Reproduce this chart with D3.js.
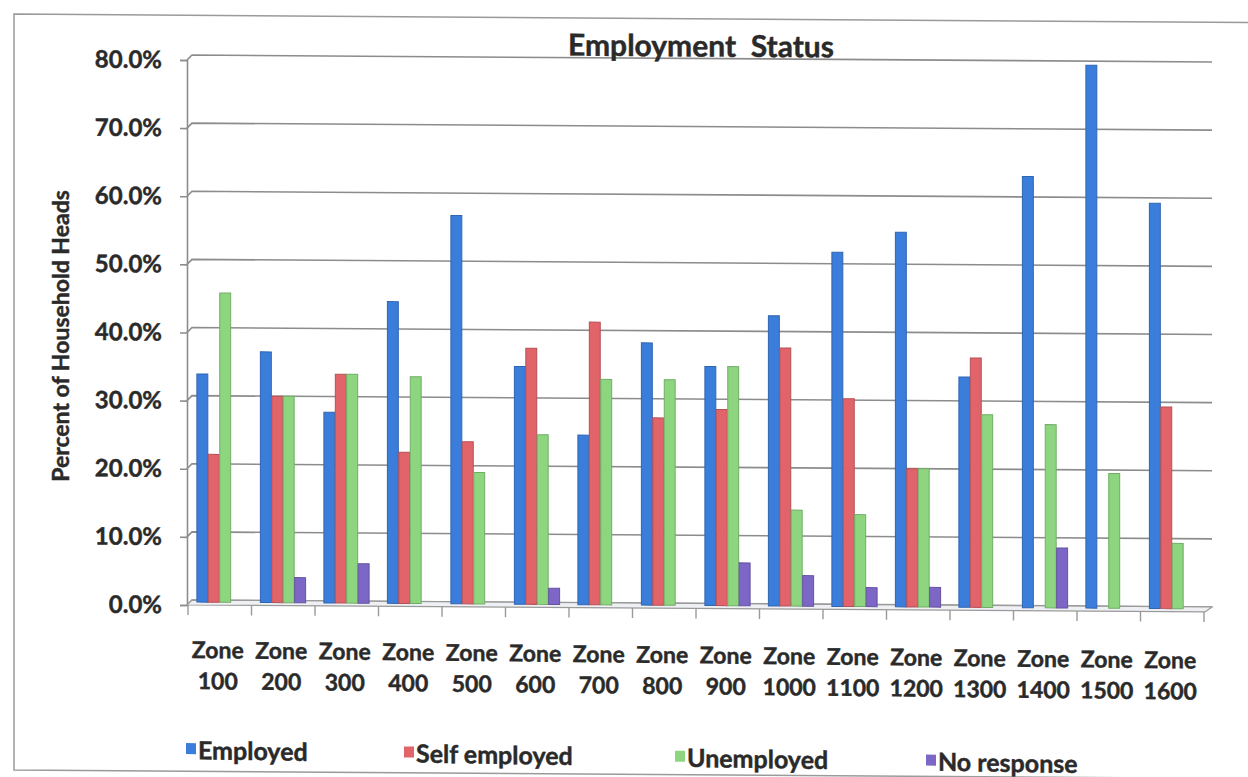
<!DOCTYPE html>
<html>
<head>
<meta charset="utf-8">
<script src="https://cdn.jsdelivr.net/npm/d3@7"></script>
<style>
  html, body { margin: 0; padding: 0; background: #fff; }
  svg { display: block; }
  text { font-family: Lato, "Open Sans", "Liberation Sans", sans-serif; font-weight: 700; fill: #2a2a2a; stroke: #2a2a2a; stroke-width: 0.45px; }
</style>
</head>
<body>
<svg id="chart" width="1248" height="777"></svg>
<script>
// Employment status of household heads by zone (percent)
const zones = ["100", "200", "300", "400", "500", "600", "700", "800",
               "900", "1000", "1100", "1200", "1300", "1400", "1500", "1600"];
const seriesNames = ["Employed", "Self employed", "Unemployed", "No response"];
const employed     = [33.2, 36.5, 27.7, 44.0, 56.7, 34.6, 24.6, 38.2, 34.8, 42.3, 51.7, 54.7, 33.5, 63.0, 79.4, 59.2];
const selfEmployed = [21.4, 30.0, 33.3, 21.9, 23.5, 37.3, 41.2, 27.2, 28.5, 37.6, 30.2, 20.0, 36.3, 0.0, 0.0, 29.3];
const unemployed   = [45.1, 30.0, 33.3, 33.0, 19.0, 24.6, 32.8, 32.8, 34.8, 13.8, 13.2, 20.0, 28.0, 26.6, 19.5, 9.3];
const noResponse   = [0.0, 3.4, 5.5, 0.0, 0.0, 2.1, 0.0, 0.0, 6.0, 4.2, 2.5, 2.6, 0.0, 8.5, 0.0, 0.0];
const yTicks = [0, 10, 20, 30, 40, 50, 60, 70, 80];
const colors = ["#3b7ddb", "#e0646a", "#8dd67f", "#7d67c6"];

const seriesValues = [employed, selfEmployed, unemployed, noResponse];
const rows = zones.map((z, i) => ({
  zone: z,
  values: seriesNames.map((s, k) => ({ key: s, value: seriesValues[k][i] }))
}));

const svg = d3.select("#chart");
svg.append("rect").attr("width", 1248).attr("height", 777).attr("fill", "#fff");

// the whole drawing sits slightly tilted, left edge fixed
const tilt = (deg, ox) => `translate(${ox},0) skewY(${deg}) translate(${-ox},0)`;

// outer frame
svg.append("g").attr("transform", tilt(0.4, 14))
  .append("path")
  .attr("d", "M1250,14 H14 V770 H1250")
  .attr("fill", "none").attr("stroke", "#9a9a9a").attr("stroke-width", 1.5);

const x0 = d3.scaleBand().domain(zones).range([188, 1204]).paddingInner(0.28).paddingOuter(0.14);
const x1 = d3.scaleBand().domain(seriesNames).range([0, x0.bandwidth()]);
const y = d3.scaleLinear().domain([0, 80]).range([600, 55]);
const depth = 5; // offset of the back wall from the axis

const plot = svg.append("g").attr("transform", tilt(0.39, 188));

// back-wall gridlines with short corner segments to the axis
plot.append("g").selectAll("path").data(yTicks).join("path")
  .attr("d", d => `M187,${y(d) + depth} L192,${y(d)} H1212`)
  .attr("fill", "none").attr("stroke", "#8c8c8c").attr("stroke-width", 1.6);

// value axis
const yAxis = plot.append("g").attr("transform", `translate(187,${depth})`)
  .call(d3.axisLeft(y).tickValues(yTicks).tickSize(7).tickPadding(18)
    .tickFormat(d => d3.format(".1f")(d) + "%"));
yAxis.select(".domain").attr("stroke", "#8c8c8c").attr("stroke-width", 1.6);
yAxis.selectAll(".tick line").attr("stroke", "#8c8c8c").attr("stroke-width", 1.6);
yAxis.selectAll(".tick text").attr("font-size", 24).attr("fill", "#2a2a2a")
  .attr("font-family", "Lato, sans-serif").attr("font-weight", 700);

// floor
plot.append("path")
  .attr("d", `M187,${y(0) + depth} L192,${y(0)} H1212 L1205,${y(0) + depth} Z`)
  .attr("fill", "#eef0f4").attr("stroke", "#9a9a9a").attr("stroke-width", 1.2);

// category axis ticks at the band boundaries
const half = x0.step() * x0.paddingInner() / 2;
const bounds = zones.map(z => x0(z) - half).concat([x0(zones[zones.length - 1]) + x0.bandwidth() + half]);
plot.append("g").selectAll("line").data(bounds).join("line")
  .attr("x1", d => d).attr("x2", d => d)
  .attr("y1", y(0) + depth).attr("y2", y(0) + depth + 10)
  .attr("stroke", "#9a9a9a").attr("stroke-width", 1.4);

// bars
plot.append("g").selectAll("g").data(rows).join("g")
  .attr("transform", d => `translate(${x0(d.zone)},0)`)
  .selectAll("rect").data(d => d.values.filter(v => v.value > 0)).join("rect")
  .attr("x", d => x1(d.key))
  .attr("width", x1.bandwidth() - 0.5)
  .attr("y", d => y(d.value))
  .attr("height", d => y(0) + 2 - y(d.value))
  .attr("fill", d => colors[seriesNames.indexOf(d.key)])
  .attr("stroke", d => d3.color(colors[seriesNames.indexOf(d.key)]).darker(0.6))
  .attr("stroke-width", 1);

// category labels
const labels = svg.append("g").attr("transform", tilt(0.6, 188));
const cx = d => x0(d) + x0.bandwidth() / 2 - 2;
const lab = labels.selectAll("text").data(zones).join("text")
  .attr("text-anchor", "middle").attr("font-size", 23);
lab.append("tspan").attr("x", cx).attr("y", 658).text("Zone");
lab.append("tspan").attr("x", cx).attr("y", 689).text(d => d);

// title
svg.append("g").attr("transform", tilt(0.39, 188))
  .append("text").attr("x", 701).attr("y", 53).attr("text-anchor", "middle")
  .attr("font-size", 30).attr("xml:space", "preserve").text("Employment  Status");

// value axis title
svg.append("text")
  .attr("transform", "translate(69,336) rotate(-90)")
  .attr("text-anchor", "middle").attr("font-size", 23)
  .text("Percent of Household Heads");

// legend
const legendX = [186, 404, 675, 926];
const legend = svg.append("g").attr("transform", tilt(0.9, 186));
const li = legend.selectAll("g").data(seriesNames).join("g")
  .attr("transform", (d, i) => `translate(${legendX[i]},0)`);
li.append("rect").attr("x", 0).attr("y", 743).attr("width", 10).attr("height", 11)
  .attr("fill", (d, i) => colors[i]).attr("stroke", "none");
li.append("text").attr("x", 12).attr("y", 759).attr("font-size", 25).text(d => d);
</script>
</body>
</html>
